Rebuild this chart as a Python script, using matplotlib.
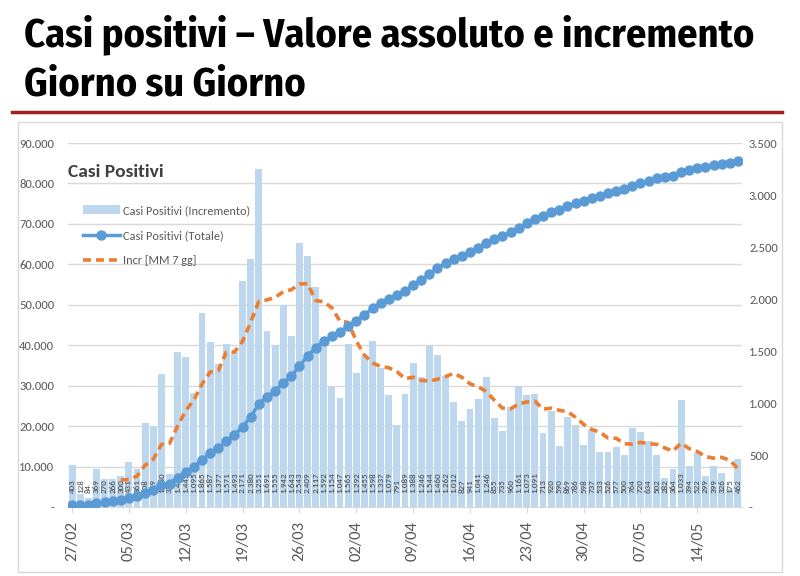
import matplotlib
matplotlib.use("Agg")
import matplotlib.pyplot as plt
from matplotlib.patches import Rectangle
from matplotlib.lines import Line2D

# dates 27/02 .. 19/05 (one bar per day)
dates = [
    "27/02", "28/02", "29/02", "01/03", "02/03", "03/03", "04/03", "05/03", "06/03", "07/03",
    "08/03", "09/03", "10/03", "11/03", "12/03", "13/03", "14/03", "15/03", "16/03", "17/03",
    "18/03", "19/03", "20/03", "21/03", "22/03", "23/03", "24/03", "25/03", "26/03", "27/03",
    "28/03", "29/03", "30/03", "31/03", "01/04", "02/04", "03/04", "04/04", "05/04", "06/04",
    "07/04", "08/04", "09/04", "10/04", "11/04", "12/04", "13/04", "14/04", "15/04", "16/04",
    "17/04", "18/04", "19/04", "20/04", "21/04", "22/04", "23/04", "24/04", "25/04", "26/04",
    "27/04", "28/04", "29/04", "30/04", "01/05", "02/05", "03/05", "04/05", "05/05", "06/05",
    "07/05", "08/05", "09/05", "10/05", "11/05", "12/05", "13/05", "14/05", "15/05", "16/05",
    "17/05", "18/05", "19/05",
]

incremento = [
    403, 128, 84, 369, 270, 266, 300, 431, 361, 808,
    769, 1280, 322, 1489, 1445, 1095, 1865, 1587, 1377, 1571,
    1493, 2171, 2380, 3251, 1691, 1555, 1942, 1643, 2543, 2409,
    2117, 1592, 1154, 1047, 1565, 1292, 1455, 1598, 1337, 1079,
    791, 1089, 1388, 1246, 1544, 1460, 1262, 1012, 827, 941,
    1041, 1246, 855, 735, 960, 1161, 1073, 1091, 713, 920,
    590, 869, 786, 598, 737, 533, 526, 577, 500, 764,
    720, 634, 502, 282, 364, 1033, 394, 522, 299, 399,
    326, 175, 462,
]

totale = [
    403, 531, 615, 984, 1254, 1520, 1820, 2251, 2612, 3420,
    4189, 5469, 5791, 7280, 8725, 9820, 11685, 13272, 14649, 16220,
    17713, 19884, 22264, 25515, 27206, 28761, 30703, 32346, 34889, 37298,
    39415, 41007, 42161, 43208, 44773, 46065, 47520, 49118, 50455, 51534,
    52325, 53414, 54802, 56048, 57592, 59052, 60314, 61326, 62153, 63094,
    64135, 65381, 66236, 66971, 67931, 69092, 70165, 71256, 71969, 72889,
    73479, 74348, 75134, 75732, 76469, 77002, 77528, 78105, 78605, 79369,
    80089, 80723, 81225, 81507, 81871, 82904, 83298, 83820, 84119, 84518,
    84844, 85019, 85481,
]

# 7-day moving average, starts on 04/03
mm7_start = 6
mm7 = [
    260, 264, 297, 401, 458, 602, 610, 780, 925, 1030,
    1181, 1298, 1311, 1490, 1490, 1594, 1778, 1976, 1991, 2016,
    2069, 2090, 2144, 2148, 1986, 1972, 1914, 1786, 1775, 1597,
    1460, 1386, 1350, 1339, 1302, 1234, 1248, 1218, 1211, 1228,
    1254, 1286, 1248, 1185, 1155, 1113, 1026, 951, 944, 991,
    1010, 1017, 941, 950, 930, 917, 863, 795, 745, 719,
    663, 661, 608, 605, 622, 608, 603, 568, 538, 614,
    561, 533, 485, 470, 477, 450, 368,
]

left_ticks = [0, 10000, 20000, 30000, 40000, 50000, 60000, 70000, 80000, 90000]
right_ticks = [0, 500, 1000, 1500, 2000, 2500, 3000, 3500]


def it_num(v):
    if v == 0:
        return "-"
    return f"{v:,}".replace(",", ".")


BAR = "#bdd7ee"
BLUE = "#5b9bd5"
ORANGE = "#ed7d31"
GRID = "#d9d9d9"
TXT = "#595959"
TITLE_FONT = ["Fira Sans Condensed", "DejaVu Sans"]

plt.rcParams["font.family"] = ["Carlito", "DejaVu Sans"]

fig = plt.figure(figsize=(8, 5.76), dpi=100)

# title block
fig.text(24 / 800, 1 - 46 / 576, "Casi positivi \u2013 Valore assoluto e incremento",
         family=TITLE_FONT, weight="bold", fontsize=29, color="black",
         va="baseline", ha="left")
fig.text(24 / 800, 1 - 95 / 576, "Giorno su Giorno",
         family=TITLE_FONT, weight="bold", fontsize=29, color="black",
         va="baseline", ha="left")
fig.add_artist(Line2D([12 / 800, 782 / 800], [1 - 112 / 576] * 2,
                      color="#a31f22", lw=2.5, transform=fig.transFigure))
fig.add_artist(Rectangle((18 / 800, 1 - 572 / 576), 764 / 800, 450 / 576,
                         transform=fig.transFigure, fill=False,
                         edgecolor=GRID, lw=1))

ax_r = fig.add_axes([68 / 800, 1 - 507 / 576, 674 / 800, 364 / 576])
ax_l = ax_r.twinx()
# left axis carries the totals, right axis the increments
ax_l.yaxis.tick_left()
ax_l.yaxis.set_label_position("left")
ax_r.yaxis.tick_right()
ax_r.set_zorder(1)
ax_l.set_zorder(2)
ax_l.patch.set_visible(False)

x = list(range(len(dates)))
bars = ax_r.bar(x, incremento, width=0.85, color=BAR, zorder=2)
for xi, v in zip(x, incremento):
    ax_r.text(xi, 130, it_num(v), rotation=90, ha="center", va="bottom",
              fontsize=6.5, color="#404040", zorder=3)

mm_line, = ax_r.plot(x[mm7_start:], mm7, color=ORANGE, lw=2.6,
                     ls=(0, (2.2, 1.4)), zorder=4)
tot_line, = ax_l.plot(x, totale, color=BLUE, lw=2.5, marker="o", ms=6.5)

ax_r.set_xlim(-0.5, len(dates) - 0.5)
ax_r.set_ylim(0, 3500)
ax_l.set_ylim(0, 90000)
ax_r.set_yticks(right_ticks)
ax_r.set_yticklabels([it_num(t) for t in right_ticks])
ax_l.set_yticks(left_ticks)
ax_l.set_yticklabels([it_num(t) for t in left_ticks])

# horizontal grid from the left scale, drawn behind the bars
for t in left_ticks[1:]:
    ax_r.axhline(t * 3500 / 90000, color=GRID, lw=1, zorder=0)

tick_pos = x[::7]
ax_r.set_xticks(tick_pos)
ax_r.set_xticklabels([dates[i] for i in tick_pos], rotation=90, fontsize=12,
                     color=TXT)
ax_r.tick_params(axis="x", length=4, color=GRID, pad=6)

for a in (ax_l, ax_r):
    for s in a.spines.values():
        s.set_visible(False)
ax_r.spines["bottom"].set_visible(True)
ax_r.spines["bottom"].set_color(GRID)
ax_l.tick_params(axis="y", length=0, labelsize=9, labelcolor=TXT, pad=10)
ax_r.tick_params(axis="y", length=0, labelsize=9, labelcolor=TXT, pad=5)

fig.text(68 / 800, 1 - 172 / 576, "Casi Positivi", fontsize=14,
         color="#404040", weight="bold", va="center", ha="left")
leg = fig.legend([bars, tot_line, mm_line],
                 ["Casi Positivi (Incremento)", "Casi Positivi (Totale)",
                  "Incr [MM 7 gg]"],
                 loc="upper left", bbox_to_anchor=(72 / 800, 1 - 194 / 576),
                 frameon=False, fontsize=8.8, labelcolor=TXT,
                 handlelength=3.0, handletextpad=0.25, labelspacing=1.15)
leg.set_zorder(10)

fig.savefig("out.png", dpi=100, facecolor="white")
